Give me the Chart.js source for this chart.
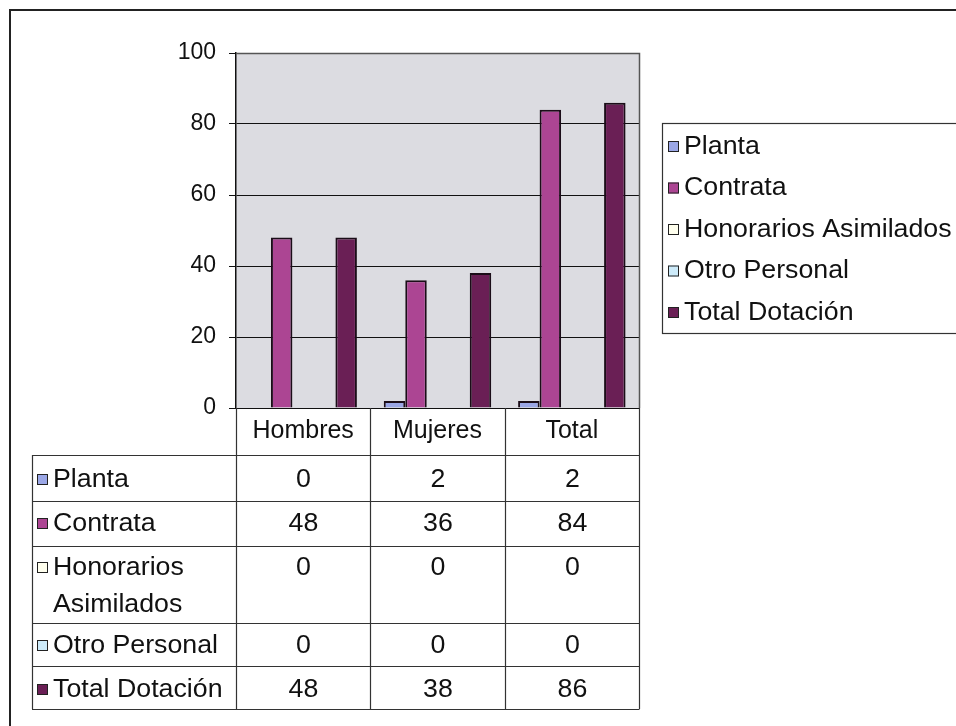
<!DOCTYPE html>
<html>
<head>
<meta charset="utf-8">
<script src="https://cdn.jsdelivr.net/npm/chart.js@4.4.1/dist/chart.umd.min.js"></script>
<style>
  html, body { margin: 0; padding: 0; background: #fff; }
  #wrap { width: 956px; height: 726px; }
</style>
</head>
<body>
<div id="wrap"><canvas id="c" width="956" height="726"></canvas></div>
<script>
// Dotación de personal por tipo de contrato y sexo
const categories = ['Hombres', 'Mujeres', 'Total'];
const seriesNames = ['Planta', 'Contrata', 'Honorarios Asimilados', 'Otro Personal', 'Total Dotación'];
const tableRowLabels = [['Planta'], ['Contrata'], ['Honorarios', 'Asimilados'], ['Otro Personal'], ['Total Dotación']];
const planta = [0, 2, 2];
const contrata = [48, 36, 84];
const honorariosAsimilados = [0, 0, 0];
const otroPersonal = [0, 0, 0];
const totalDotacion = [48, 38, 86];
const yTicks = [0, 20, 40, 60, 80, 100];
const seriesColors = ['#9BA7E6', '#AC4593', '#FFFFEE', '#CDEBFA', '#6A1F55'];

const seriesValues = [planta, contrata, honorariosAsimilados, otroPersonal, totalDotacion];
const FONT = '"Liberation Sans", Arial, sans-serif';
const INK = '#111';

// geometry of the data table under the plot
const tableLeft = 32;
const rowLines = [455, 501, 546, 623, 666, 709];
const rowTextY = [[479], [523], [567, 604], [645], [689]];

function swatch(ctx, x, y, color) {
  ctx.fillStyle = color;
  ctx.fillRect(x, y, 11, 11);
  ctx.strokeStyle = '#222';
  ctx.lineWidth = 1;
  ctx.strokeRect(x + 0.5, y + 0.5, 10, 10);
}

// text drawn slightly wider than the font's natural width
function wideText(ctx, text, x, y, align) {
  const sx = 1.07;
  const w = ctx.measureText(text).width * sx;
  let left = x;
  if (align === 'center') left = x - w / 2;
  ctx.save();
  ctx.textAlign = 'left';
  ctx.translate(left, y);
  ctx.scale(sx, 1);
  ctx.fillText(text, 0, 0);
  ctx.restore();
}

const framePlugin = {
  id: 'frame',
  beforeDraw(chart) {
    const { ctx, chartArea: a } = chart;
    ctx.save();
    ctx.fillStyle = '#fff';
    ctx.fillRect(0, 0, chart.width, chart.height);
    ctx.fillStyle = '#DCDCE1';
    ctx.fillRect(a.left, a.top, a.right - a.left, a.bottom - a.top);
    ctx.restore();
  },
  afterDraw(chart) {
    const { ctx, chartArea: a } = chart;
    const n = categories.length;
    const cw = (a.right - a.left) / n;
    const cols = [];
    for (let i = 0; i <= n; i++) cols.push(Math.round(a.left + i * cw) + 0.5);
    ctx.save();

    // plot border (top and right)
    ctx.strokeStyle = '#555';
    ctx.lineWidth = 1.5;
    ctx.beginPath();
    ctx.moveTo(a.left, a.top + 0.5);
    ctx.lineTo(a.right + 0.5, a.top + 0.5);
    ctx.lineTo(a.right + 0.5, a.bottom);
    ctx.stroke();

    // category header cells and data table grid
    ctx.strokeStyle = '#333';
    ctx.lineWidth = 1.2;
    ctx.beginPath();
    cols.forEach(x => { ctx.moveTo(x, a.bottom); ctx.lineTo(x, rowLines[rowLines.length - 1]); });
    ctx.moveTo(tableLeft + 0.5, rowLines[0]);
    ctx.lineTo(tableLeft + 0.5, rowLines[rowLines.length - 1]);
    rowLines.forEach(y => { ctx.moveTo(tableLeft, y + 0.5); ctx.lineTo(cols[n], y + 0.5); });
    ctx.stroke();

    ctx.font = '25px ' + FONT;
    ctx.fillStyle = INK;
    ctx.textBaseline = 'middle';
    seriesNames.forEach((name, r) => {
      const lines = tableRowLabels[r];
      const ys = rowTextY[r];
      swatch(ctx, tableLeft + 5, ys[0] - 5, seriesColors[r]);
      ctx.fillStyle = INK;
      lines.forEach((t, k) => wideText(ctx, t, tableLeft + 21, ys[k] + 1, 'left'));
      seriesValues[r].forEach((v, c) => {
        wideText(ctx, String(v), (cols[c] + cols[c + 1]) / 2, ys[0] + 1, 'center');
      });
    });

    // legend box
    const lx = 662, ly = 123, lb = 333;
    ctx.strokeStyle = '#333';
    ctx.lineWidth = 1.2;
    ctx.strokeRect(lx + 0.5, ly + 0.5, chart.width + 10 - lx, lb - ly);
    seriesNames.forEach((name, i) => {
      const y = 146 + i * 41.5;
      swatch(ctx, lx + 6, y - 5, seriesColors[i]);
      ctx.fillStyle = INK;
      wideText(ctx, name, lx + 22, y + 1, 'left');
    });

    // outer frame
    ctx.strokeStyle = '#222';
    ctx.lineWidth = 2;
    ctx.beginPath();
    ctx.moveTo(10, chart.height);
    ctx.lineTo(10, 10);
    ctx.lineTo(chart.width, 10);
    ctx.stroke();
    ctx.restore();
  }
};

new Chart(document.getElementById('c'), {
  type: 'bar',
  data: {
    labels: categories,
    datasets: seriesNames.map((name, i) => ({
      label: name,
      data: seriesValues[i],
      backgroundColor: seriesColors[i],
      borderColor: '#1b0d18',
      borderWidth: 2,
      borderSkipped: 'bottom',
      categoryPercentage: 0.8,
      barPercentage: 1.0
    }))
  },
  options: {
    responsive: false,
    animation: false,
    devicePixelRatio: 1,
    layout: { padding: { left: 0, top: 53, right: 317, bottom: 271 } },
    plugins: { legend: { display: false }, tooltip: { enabled: false } },
    scales: {
      x: {
        afterFit(s) { s.height = 47; },
        grid: { display: false, drawTicks: false },
        border: { display: false },
        ticks: { color: INK, font: { family: FONT, size: 25 }, padding: 8, maxRotation: 0 }
      },
      y: {
        min: 0, max: 100,
        afterFit(s) { s.width = 236; },
        afterBuildTicks(s) { s.ticks = yTicks.map(v => ({ value: v })); },
        grid: { color: '#111', lineWidth: 1, tickLength: 7, drawOnChartArea: true },
        border: { display: true, color: '#111', width: 1.5 },
        ticks: { color: INK, font: { family: FONT, size: 23 }, padding: 13 }
      }
    }
  },
  plugins: [framePlugin]
});
</script>
</body>
</html>
